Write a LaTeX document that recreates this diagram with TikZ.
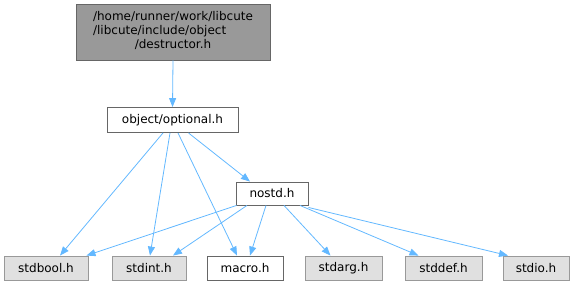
\documentclass[tikz,border=0pt]{standalone}
\usepackage{fontspec}
\setmainfont{DejaVu Sans}
\usetikzlibrary{arrows.meta}
\definecolor{edgeblue}{HTML}{63B8FF}
\definecolor{extfill}{HTML}{E0E0E0}
\definecolor{extdraw}{HTML}{999999}
\definecolor{curfill}{HTML}{999999}
\definecolor{nodedraw}{HTML}{666666}
\tikzset{
  basebox/.style={draw, line width=0.9pt, inner sep=0pt, minimum height=24pt, font=\fontsize{12}{13}\selectfont, text=black, anchor=center},
  extbox/.style={basebox, fill=extfill, draw=extdraw},
  intbox/.style={basebox, fill=white, draw=nodedraw},
  curbox/.style={basebox, fill=curfill, draw=nodedraw},
  dep/.style={draw=edgeblue, line width=0.8pt, -{Triangle[length=9pt,width=7pt,fill=edgeblue]}},
}
\begin{document}
\begin{tikzpicture}[x=1pt,y=-1pt]
\useasboundingbox (0,0) rectangle (576,285);
\node[curbox, minimum width=194pt, minimum height=56pt] (top) at (173,32)
  {\fontsize{12}{14}\selectfont\begin{tabular}{@{}l@{}}/home/runner/work/libcute\\/libcute/include/object\\\multicolumn{1}{@{}c@{}}{/destructor.h}\end{tabular}};
\node[intbox, minimum width=131pt, minimum height=25pt] (opt) at (172.5,120) {object/optional.h};
\node[intbox, minimum width=72pt, minimum height=23pt] (nostd) at (272,193.5) {nostd.h};
\node[extbox, minimum width=84pt] (stdbool) at (46,268) {stdbool.h};
\node[extbox, minimum width=74pt] (stdint) at (149,268) {stdint.h};
\node[intbox, minimum width=76pt] (macro) at (245,268) {macro.h};
\node[extbox, minimum width=77pt] (stdarg) at (343.5,268) {stdarg.h};
\node[extbox, minimum width=77pt] (stddef) at (443.5,268) {stddef.h};
\node[extbox, minimum width=66pt] (stdio) at (536,268) {stdio.h};

\draw[dep] (top.south) -- (opt.north);
\draw[dep] ([xshift=-9.5pt]opt.south) -- ([xshift=14pt]stdbool.north);
\draw[dep] ([xshift=-2.5pt]opt.south) -- ([xshift=1pt]stdint.north);
\draw[dep] ([xshift=5.5pt]opt.south) -- ([xshift=-8pt]macro.north);
\draw[dep] ([xshift=16pt]opt.south) -- ([xshift=-22pt]nostd.north);
\draw[dep] ([xshift=1pt]nostd.south west) -- ([xshift=-2pt]stdbool.north east);
\draw[dep] ([xshift=-25pt]nostd.south) -- ([xshift=24pt]stdint.north);
\draw[dep] ([xshift=-6pt]nostd.south) -- ([xshift=5pt]macro.north);
\draw[dep] ([xshift=12pt]nostd.south) -- ([xshift=-13pt]stdarg.north);
\draw[dep] ([xshift=28pt]nostd.south) -- ([xshift=-25pt]stddef.north);
\draw[dep] ([yshift=-2pt]nostd.south east) -- ([xshift=-28pt]stdio.north);
\end{tikzpicture}
\end{document}
